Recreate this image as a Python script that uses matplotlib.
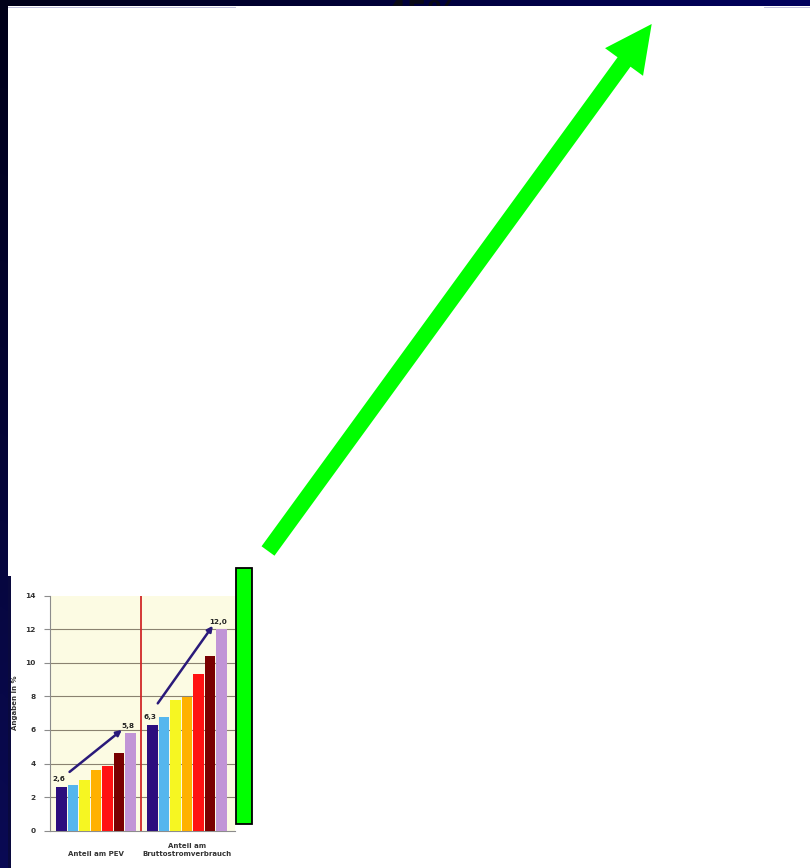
import numpy as np
import matplotlib
matplotlib.use('Agg')
import matplotlib.pyplot as plt
from matplotlib.patches import Rectangle, FancyArrow

# ---------------- data ----------------
categories = ["Anteil am PEV", "Anteil am\nBruttostromverbrauch"]
pev_values = [2.6, 2.7, 3.0, 3.6, 3.85, 4.65, 5.8]
strom_values = [6.3, 6.75, 7.8, 7.95, 9.3, 10.4, 12.0]
bar_colors = ['#2C0E7E', '#55B6EE', '#F6F622', '#FFB100', '#FF1212', '#780000', '#C195D6']
start_labels = ["2,6", "6,3"]
end_labels = ["5,8", "12,0"]
yticks = [0, 2, 4, 6, 8, 10, 12, 14]
ylabel = "Angaben in %"
title_fragment = "45%"

W, H = 810, 868
fig = plt.figure(figsize=(W / 100, H / 100), dpi=100)

# ---------------- slide background ----------------
bg = fig.add_axes([0, 0, 1, 1])
bg.set_xlim(0, W)
bg.set_ylim(H, 0)
bg.axis('off')
X, Y = np.meshgrid(np.linspace(0, 1, 300), np.linspace(0, 1, 300))
B = (24 + 70 * X + 60 * Y * (1 - X)) / 255
R = (10 * Y * (1 - X)) / 255
img = np.clip(np.dstack([R, R, B]), 0, 1)
bg.imshow(img, extent=[0, W, H, 0], aspect='auto', zorder=0)
bg.text(422, -1, title_fragment, ha='center', va='top', fontsize=22,
        weight='bold', color='#0A0A16', zorder=1)
bg.add_patch(Rectangle((8, 6), W - 8, H - 6, fc='white', ec='none', zorder=2))
bg.add_patch(Rectangle((7.5, 576), 3.5, H - 576, fc='#09093E', ec='none', zorder=2.5))
bg.plot([8, 235], [6.5, 6.5], color='#C0C0DC', lw=0.7, zorder=3)
bg.plot([764, W], [6.5, 6.5], color='#C0C0DC', lw=0.7, zorder=3)

# big green arrow
bg.add_patch(FancyArrow(268, 551, 383.7, -527, width=16, head_width=47,
                        head_length=47, length_includes_head=True,
                        fc='#00FF00', ec='none', zorder=3))
# green bar
bg.add_patch(Rectangle((235.5, 567.5), 16.5, 256.5, fc='#00FF00', ec='black',
                       lw=1.3, zorder=3))

# ---------------- bar chart ----------------
ax_left, ax_right, ax_bottom, ax_top = 50, 235, 830.7, 595.5
ax = fig.add_axes([ax_left / W, (H - ax_bottom) / H,
                   (ax_right - ax_left) / W, (ax_bottom - ax_top) / H])
ax.set_facecolor('#FCFBE3')
unit = 11.5
ax.set_xlim(0, (ax_right - ax_left) / unit)
ax.set_ylim(0, 14)

n = len(pev_values)
g1_x = np.arange(n) + 1.0
g2_x = np.arange(n) + 8.91
divider = 7.91

for yv in yticks[1:-1]:
    ax.axhline(yv, color='#8A8270', lw=0.8, zorder=1)

ax.bar(g1_x, pev_values, width=0.94, color=bar_colors, zorder=3)
ax.bar(g2_x, strom_values, width=0.94, color=bar_colors, zorder=3)
ax.axvline(divider, color='#D02828', lw=1.3, zorder=4)

for sp in ['top', 'right']:
    ax.spines[sp].set_visible(False)
for sp in ['left', 'bottom']:
    ax.spines[sp].set_color('#8C8C8C')
    ax.spines[sp].set_linewidth(0.8)
ax.set_yticks(yticks)
ax.set_yticklabels([str(v) for v in yticks])
ax.tick_params(axis='y', length=4.3, width=0.8, color='#8C8C8C', labelsize=5.3,
               pad=6, labelcolor='#333333')
for lbl in ax.get_yticklabels():
    lbl.set_fontweight('bold')
ax.set_xticks([])

ax.text(-0.189, 0.543, ylabel, rotation=90, transform=ax.transAxes,
        ha='center', va='center', fontsize=5, weight='bold', color='#333333')

trans = ax.get_xaxis_transform()
centers = [g1_x.mean(), g2_x.mean()]
for c, lab in zip(centers, categories):
    ax.text(c, -0.112, lab, transform=trans, ha='center', va='bottom',
            fontsize=5, weight='bold', color='#333333', linespacing=1.5,
            multialignment='center')

groups = [(g1_x, pev_values), (g2_x, strom_values)]
start_off = [(0.7, 0.9), (0.46, 1.28)]
for (xs, vals), sl, el, so in zip(groups, start_labels, end_labels, start_off):
    ax.text(xs[0] - 0.2, vals[0] + 0.48, sl, ha='center', va='center',
            fontsize=5.2, weight='bold', color='#222222', zorder=5)
    ax.text(xs[-1] - 0.25, vals[-1] + 0.45, el, ha='center', va='center',
            fontsize=5.2, weight='bold', color='#222222', zorder=5)
    ax.annotate('', xy=(xs[-1] - 0.75, vals[-1] + 0.2),
                xytext=(xs[0] + so[0], vals[0] + so[1]),
                arrowprops=dict(arrowstyle='-|>', color='#2A1A7A', lw=1.8,
                                mutation_scale=8, shrinkA=0, shrinkB=0),
                zorder=5)

fig.savefig('out.png', dpi=100)
